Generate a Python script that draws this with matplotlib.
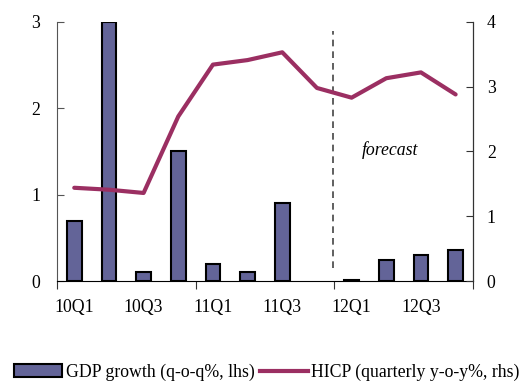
import numpy as np
import matplotlib.pyplot as plt
from matplotlib.patches import Patch
from matplotlib.lines import Line2D

plt.rcParams['font.family'] = ['Liberation Serif', 'DejaVu Serif']
plt.rcParams['font.size'] = 12.8

# Données
quarters = ['10Q1', '10Q2', '10Q3', '10Q4', '11Q1', '11Q2', '11Q3', '11Q4',
            '12Q1', '12Q2', '12Q3', '12Q4']
gdp = [0.70, 3.00, 0.10, 1.50, 0.20, 0.10, 0.90, 0.00, 0.015, 0.25, 0.30, 0.36]
hicp = [1.44, 1.41, 1.36, 2.54, 3.34, 3.41, 3.53, 2.98, 2.83, 3.13, 3.22, 2.88]
label_quarters = ['10Q1', '10Q3', '11Q1', '11Q3', '12Q1', '12Q3']

bar_color = '#636498'
line_color = '#9b2f62'

x = np.arange(len(quarters))
gdp_arr = np.array(gdp)
shown = gdp_arr > 0  # pas de barre pour une croissance nulle

fig = plt.figure(figsize=(5.32, 3.83), dpi=100)
ax = fig.add_axes([0.107, 0.266, 0.782, 0.677])
ax2 = ax.twinx()

ax.bar(x[shown], gdp_arr[shown], width=0.42, color=bar_color, edgecolor='black',
       linewidth=1.5, zorder=2)
ax2.plot(x, hicp, color=line_color, linewidth=3, solid_capstyle='round', zorder=3)

ax.set_xlim(-0.5, len(quarters) - 0.5)
ax.set_ylim(0, 3)
ax2.set_ylim(0, 4)
ax.set_yticks([0, 1, 2, 3])
ax2.set_yticks([0, 1, 2, 3, 4])

# séparation prévision
ax.plot([7.45, 7.45], [0.15, 2.89], color='#444444', linewidth=1.2,
        linestyle=(0, (4, 3)), zorder=1)
ax.text(9.12, 1.52, 'forecast', style='italic', ha='center', va='center')

# axes
ax.set_xticks(np.arange(-0.5, len(quarters), 4))
ax.set_xticklabels([])
ax.set_xticks([quarters.index(q) for q in label_quarters], minor=True)
ax.set_xticklabels(label_quarters, minor=True)
ax.tick_params(axis='x', which='major', direction='out', length=6, color='#333333')
ax.tick_params(axis='x', which='minor', length=0, pad=13)
ax.tick_params(axis='y', direction='in', length=5, pad=12, color='#555555')
ax2.tick_params(axis='y', direction='in', length=5, pad=10, color='#333333')

for a in (ax, ax2):
    a.spines['top'].set_visible(False)
ax.spines['left'].set_color('#555555')
ax2.spines['right'].set_color('#333333')
ax2.spines['left'].set_visible(False)
ax2.spines['bottom'].set_visible(False)

handles = [Patch(facecolor=bar_color, edgecolor='black', linewidth=1.5),
           Line2D([0], [0], color=line_color, linewidth=3)]
labels = ['GDP growth (q-o-q%, lhs)', 'HICP (quarterly y-o-y%, rhs)']
fig.legend(handles, labels, loc='center', bbox_to_anchor=(0.502, 0.028), ncol=2,
           frameon=False, handlelength=2.7, handleheight=0.7,
           handletextpad=0.2, columnspacing=0.3, borderaxespad=0)

fig.savefig('out.png', dpi=100)
